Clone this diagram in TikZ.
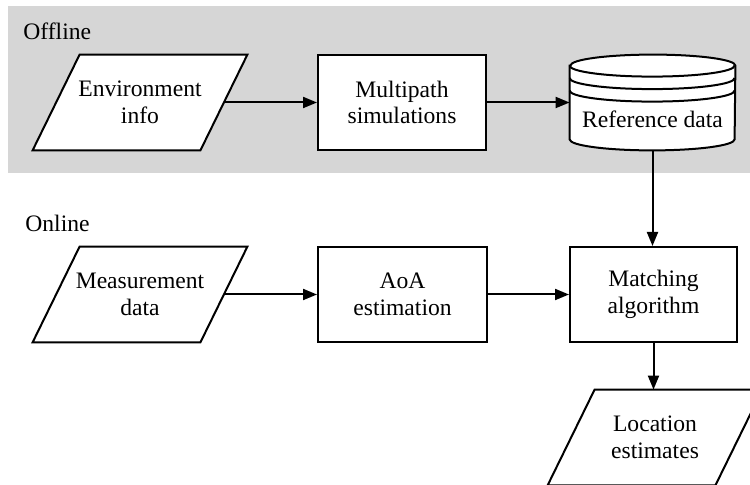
\documentclass[tikz,border=0pt]{standalone}
\usepackage{fontspec}
\setmainfont{Liberation Serif}
\usetikzlibrary{arrows.meta,backgrounds}
\definecolor{bandgray}{RGB}{214,214,214}
\begin{document}
\begin{tikzpicture}[x=0.5pt,y=-0.5pt,
  every node/.style={font=\fontsize{11.8pt}{13.3pt}\selectfont, inner sep=0pt, align=center},
  boxnode/.style={draw, line width=1pt, fill=white, minimum height=47.5pt},
  paranode/.style={minimum width=83.5pt, minimum height=47.5pt},
  cylnode/.style={minimum width=82.5pt, minimum height=47.5pt},
  conn/.style={line width=1pt, -{Triangle[length=7pt,width=5.5pt]}},
  shapeline/.style={draw, line width=1pt, fill=white, line join=miter},
  plainline/.style={line width=1pt}]
\useasboundingbox (0,0) rectangle (750,485);

\node[paranode] (env) at (140,102.5) {Environment\\info};
\node[boxnode, minimum width=84pt] (multi) at (402,102.5) {Multipath\\simulations};
\node[cylnode] (ref) at (652.5,102.5) {};
\node[anchor=base] (reflabel) at (652.5,128) {Reference data};
\node[paranode] (meas) at (140,294.5) {Measurement\\data};
\node[boxnode, minimum width=84.5pt] (aoa) at (402.5,294.5) {AoA\\estimation};
\node[boxnode, minimum width=83.5pt] (match) at (653.5,294.5) {Matching\\algorithm};
\node[paranode] (loc) at (655,437.5) {Location\\estimates};
\node[anchor=base west] (offline) at (23,40) {Offline};
\node[anchor=base west] (online) at (25,232) {Online};

\begin{scope}[on background layer]
  \fill[bandgray] (8,6) rectangle (750,173);
  \foreach \n in {env,meas,loc}
    \draw[shapeline] ([xshift=-11.75pt]\n.south west) -- ([xshift=-11.75pt]\n.south east)
      -- ([xshift=11.75pt]\n.north east) -- ([xshift=11.75pt]\n.north west) -- cycle;
  \draw[shapeline] ([yshift=-5.5pt]ref.north west) -- ([yshift=5.5pt]ref.south west)
    arc[start angle=180, end angle=360, x radius=41.25pt, y radius=5.5pt]
    -- ([yshift=-5.5pt]ref.north east)
    arc[start angle=0, end angle=180, x radius=41.25pt, y radius=5.5pt] -- cycle;
  \foreach \s in {5.5,11.75,18}
    \draw[plainline] ([yshift=-\s pt]ref.north west)
      arc[start angle=180, end angle=360, x radius=41.25pt, y radius=5.5pt];
\end{scope}

\draw[conn] (env.east) -- (multi.west);
\draw[conn] (multi.east) -- (ref.west);
\draw[conn] (ref.south) -- (ref.south |- match.north);
\draw[conn] (meas.east) -- (aoa.west);
\draw[conn] (aoa.east) -- (match.west);
\draw[conn] (match.south) -- (match.south |- loc.north);
\end{tikzpicture}
\end{document}
